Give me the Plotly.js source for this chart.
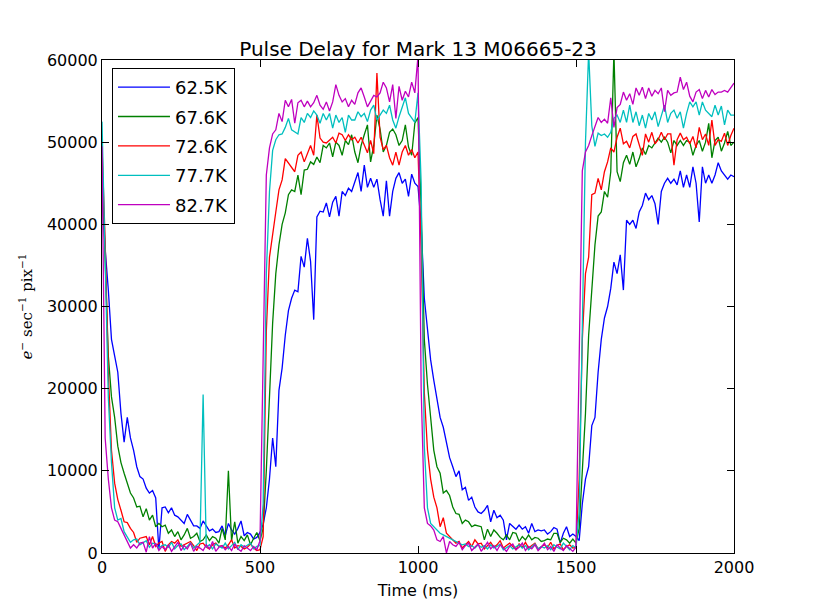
<!DOCTYPE html>
<html>
<head>
<meta charset="utf-8">
<script src="https://cdn.plot.ly/plotly-3.0.1.min.js"></script>
<style>html,body{margin:0;padding:0;background:#fff;}#chart{width:815px;height:615px;}</style>
</head>
<body>
<div id="chart"></div>
<script>
var timeMs = [
0,10,20,30,40,50,60,70,80,90,100,110,120,130,140,150,160,170,180,190,
200,210,220,230,240,250,260,270,280,290,300,310,320,330,340,350,360,370,380,390,
400,410,420,430,440,450,460,470,480,490,500,510,520,530,540,550,560,570,580,590,
600,610,620,630,640,650,660,670,680,690,700,710,720,730,740,750,760,770,780,790,
800,810,820,830,840,850,860,870,880,890,900,910,920,930,940,950,960,970,980,990,
1000,1010,1020,1030,1040,1050,1060,1070,1080,1090,1100,1110,1120,1130,1140,1150,1160,1170,1180,1190,
1200,1210,1220,1230,1240,1250,1260,1270,1280,1290,1300,1310,1320,1330,1340,1350,1360,1370,1380,1390,
1400,1410,1420,1430,1440,1450,1460,1470,1480,1490,1500,1510,1520,1530,1540,1550,1560,1570,1580,1590,
1600,1610,1620,1630,1640,1650,1660,1670,1680,1690,1700,1710,1720,1730,1740,1750,1760,1770,1780,1790,
1800,1810,1820,1830,1840,1850,1860,1870,1880,1890,1900,1910,1920,1930,1940,1950,1960,1970,1980,1990,
2000];

var seriesNames = ["62.5K", "67.6K", "72.6K", "77.7K", "82.7K"];

var flux625 = [
44000,37000,32000,26000,24000,22000,17000,13500,16500,14000,
12500,10500,9300,9000,7900,7300,7600,6700,400,5500,
5600,4900,5500,4600,4400,4000,3600,4700,3900,3300,
3300,3000,3900,3300,2700,2900,2500,2600,3300,2100,
3600,2800,2300,3000,3900,2100,2500,2300,1700,1900,
2500,3500,5500,9000,14000,10500,19800,22500,26500,29500,
31000,32000,31800,36100,34800,38300,35500,28400,40900,41600,
41500,42600,40900,42700,43400,41000,44000,43500,44400,44000,
45200,46300,44000,47200,44500,45600,44500,45500,43000,41000,
45300,41000,44000,45600,46300,45000,45500,43400,46100,45000,
44600,40000,31000,27500,23500,21000,18500,16500,15300,13400,
11600,10500,9300,10000,7700,8000,6400,6800,5600,5000,
4800,5200,5800,3800,5200,4300,4600,4000,1600,3600,
3300,2900,3400,2900,3200,2400,3600,2600,2800,2700,
2800,2300,2600,3100,2900,1200,2400,3200,2000,2300,
2000,1500,6000,9000,10500,15500,16500,22000,26000,28600,
30000,32200,35400,34000,36300,32000,40500,40000,40500,39500,
41500,42300,43800,43000,43500,42500,40000,44000,45000,45600,
45000,45500,44800,46500,44500,46000,44500,47000,45000,40300,
47000,45000,46000,45000,46000,47500,46500,46000,45500,46000,
45800];

var flux676 = [
47000,36000,24000,19000,16500,13000,11000,9700,8500,7300,
6700,5600,5700,4400,5400,4000,4600,3200,3600,3200,
3400,2400,2800,2000,2600,1600,2200,3000,1800,2000,
2400,1400,1600,2200,1500,2000,1800,1200,3000,1600,
10000,1500,3800,1200,2000,1500,2200,1000,1800,2500,
1500,3000,10000,20000,28000,34000,37500,40000,41400,43600,
44200,44000,46000,43600,46600,46700,47600,47300,48200,47500,
49600,49300,49900,48200,50000,49600,48400,50200,49700,50900,
48800,47500,49600,50900,52100,47600,49600,53300,51600,48800,
49600,51200,51600,50900,49600,50200,52100,49400,48400,52300,
53000,42000,26000,20500,16500,12500,10500,9700,7300,7600,
7000,5600,4800,4700,3600,4000,3800,3200,3400,3300,
3200,1600,2900,2000,2800,2400,1900,1600,2200,1600,
2500,2400,1400,2000,1600,2200,1600,1900,1800,1400,
1500,1700,1600,2400,2400,1300,1800,1600,1200,1700,
1200,3000,10500,17000,26500,32500,37500,41000,41500,44000,
43300,46400,61000,46400,45200,47500,48400,47300,48800,47000,
48000,49300,48500,49600,49300,49900,50500,50000,50600,50000,
48700,50200,49600,50200,49600,50200,50000,48400,49600,50200,
48900,50000,52300,48100,50200,50600,48900,49900,51300,49600,
50000];

var flux726 = [
49500,38000,22000,12500,8500,6500,5200,3800,3700,3000,
2500,1300,1800,1900,2000,1000,2000,800,1200,1400,
200,1000,1400,1200,1600,800,1000,1300,1400,900,
300,1100,1200,700,500,1000,1200,800,900,600,
1000,1600,600,900,800,500,700,1100,600,300,
400,2000,27000,36000,39100,41500,44200,45400,48000,47500,
47000,46400,48400,48800,47600,48600,49600,48400,53300,50500,
50000,49900,50200,50600,49900,51100,50900,50200,50900,50300,
50600,49900,50600,49600,48700,50200,48600,58400,50600,49100,
49600,48100,47200,48800,47200,48800,49600,48400,49100,48100,
48800,37000,19500,12500,9000,6800,5500,3200,4300,2400,
2000,1700,1200,1400,600,1000,1400,800,1600,1100,
1200,500,900,1300,700,1000,1500,600,900,1200,
800,400,1100,700,1300,600,900,1200,500,800,
1000,700,1300,500,900,1100,400,800,1000,600,
700,9000,26000,34000,36000,43600,43800,45600,44200,46400,
47600,49300,48800,50600,51700,49800,50100,49300,50700,51000,
49600,48400,51000,50000,51200,49800,50300,51200,50300,51000,
51000,47200,50300,51100,50300,50600,49800,50700,49300,51800,
50300,51000,49600,52700,49600,50300,50100,51100,49600,50800,
51700];

var flux777 = [
52500,35000,19000,11000,5500,4000,4200,2600,2000,1300,
1600,1700,1000,1300,1500,700,1200,1100,600,900,
1000,700,1300,500,900,1100,400,800,1200,600,
900,1300,19300,700,1000,500,1100,800,600,1200,
500,900,1300,400,1000,700,900,1200,500,800,
900,6000,34000,44000,49000,50300,50900,51000,51800,52900,
51500,51200,51000,53000,52400,53500,53000,53800,53300,52300,
53500,52700,53500,51700,53300,52400,53000,51200,53300,52700,
52700,53700,53100,53500,52500,53900,54500,52700,53300,53900,
53500,54500,52700,51700,53100,54200,55400,53500,53000,52400,
56000,45000,13000,5500,3600,3200,2900,2400,2200,2000,
1800,1600,1300,1200,1000,1100,800,900,600,1000,
700,900,500,1000,600,800,1100,400,700,900,
500,800,1000,600,900,400,700,1100,500,800,
600,900,400,1000,700,500,1200,800,400,900,
600,5000,26000,50000,61000,52000,49500,51100,50800,51000,
50600,51200,52900,53300,52400,53900,52400,54500,52400,53700,
52000,53300,51700,53500,52700,53700,51900,53300,54500,52400,
53500,53900,52900,53700,51700,53500,54900,54300,54900,53300,
54900,53900,53500,53100,54500,53300,54400,52100,53900,53300,
53300];

var flux827 = [
49500,14000,9000,5500,4000,3800,3000,2200,1200,600,
1000,600,1200,1300,100,2000,600,1200,300,800,
400,1000,200,700,1300,300,900,500,1200,200,
800,600,300,1000,500,1400,200,700,900,400,
800,300,1100,500,200,900,600,300,800,400,
1500,26300,46000,49300,51000,51500,53500,52500,55100,54300,
55200,52300,54800,55100,54300,55000,54300,54800,55700,54500,
54000,54900,53800,54900,57000,55700,54900,55300,54300,55100,
54600,56000,56600,55500,54300,55000,55700,55500,56000,57300,
56600,54900,57000,52900,56800,55100,56200,55500,57300,56000,
60500,20000,5500,3600,3300,2800,1600,1400,2000,0,
1400,1000,800,1300,400,900,1200,300,700,1100,
200,800,1300,500,900,300,1000,600,200,800,
1100,400,700,1200,300,800,500,1000,300,700,
1200,400,800,200,1000,600,300,900,500,200,
700,25000,46500,48800,49600,50800,51800,53000,52400,52800,
52300,55400,51800,54200,54600,56100,55100,55900,54600,56600,
55700,56700,55300,56600,55600,56300,55900,56600,53700,56300,
55700,56000,56100,57900,56400,57300,55600,54900,56100,56400,
55300,56300,55500,56400,55800,56100,56100,56300,56100,56600,
57200];

var xTickVals = [0, 500, 1000, 1500, 2000];
var yTickVals = [0, 10000, 20000, 30000, 40000, 50000, 60000];

var allSeries = [flux625, flux676, flux726, flux777, flux827];
var lineColors = ["#0000ff", "#008000", "#ff0000", "#00bfbf", "#bf00bf"];

var traces = allSeries.map(function (vals, i) {
  return {
    type: "scatter",
    mode: "lines",
    x: timeMs,
    y: vals,
    name: seriesNames[i],
    legendgroup: "g" + i,
    line: { color: lineColors[i], width: 1.3 },
    hoverinfo: "x+y+name"
  };
});

var axisCommon = {
  showgrid: false,
  zeroline: false,
  showline: true,
  linecolor: "#000",
  linewidth: 1,
  mirror: "ticks",
  ticks: "inside",
  ticklen: 7,
  tickwidth: 1,
  tickcolor: "#000",
  tickfont: { family: "DejaVu Sans", size: 16, color: "#000" }
};

var layout = {
  width: 815,
  height: 615,
  margin: { l: 102, r: 81, t: 60, b: 62 },
  paper_bgcolor: "#fff",
  plot_bgcolor: "#fff",
  font: { family: "DejaVu Sans", size: 16, color: "#000" },
  title: {
    text: "Pulse Delay for Mark 13 M06665-23",
    font: { family: "DejaVu Sans", size: 20, color: "#000" },
    xref: "paper", x: 0.5, xanchor: "center",
    y: 0.921, yanchor: "middle"
  },
  xaxis: Object.assign({}, axisCommon, {
    range: [0, 2000],
    tickvals: xTickVals,
    ticktext: xTickVals.map(String),
    title: { text: "Time (ms)", font: { family: "DejaVu Sans", size: 16, color: "#000" }, standoff: 8 }
  }),
  yaxis: Object.assign({}, axisCommon, {
    range: [0, 60000],
    tickvals: yTickVals,
    ticktext: yTickVals.map(String),
    title: {
      text: "<i>e</i><sup>\u2212</sup> sec<sup>\u22121</sup> pix<sup>\u22121</sup>",
      font: { family: "DejaVu Serif", size: 15, color: "#000" },
      standoff: 10
    }
  }),
  showlegend: true,
  legend: {
    x: 0.0158, xanchor: "left",
    y: 0.984, yanchor: "top",
    bgcolor: "#fff",
    bordercolor: "#000",
    borderwidth: 1,
    font: { family: "DejaVu Sans", size: 18, color: "#000" },
    tracegroupgap: 3,
    itemwidth: 52,
    entrywidth: 80,
    entrywidthmode: "pixels"
  }
};

Plotly.newPlot("chart", traces, layout, { displayModeBar: false, staticPlot: true });
</script>
</body>
</html>
